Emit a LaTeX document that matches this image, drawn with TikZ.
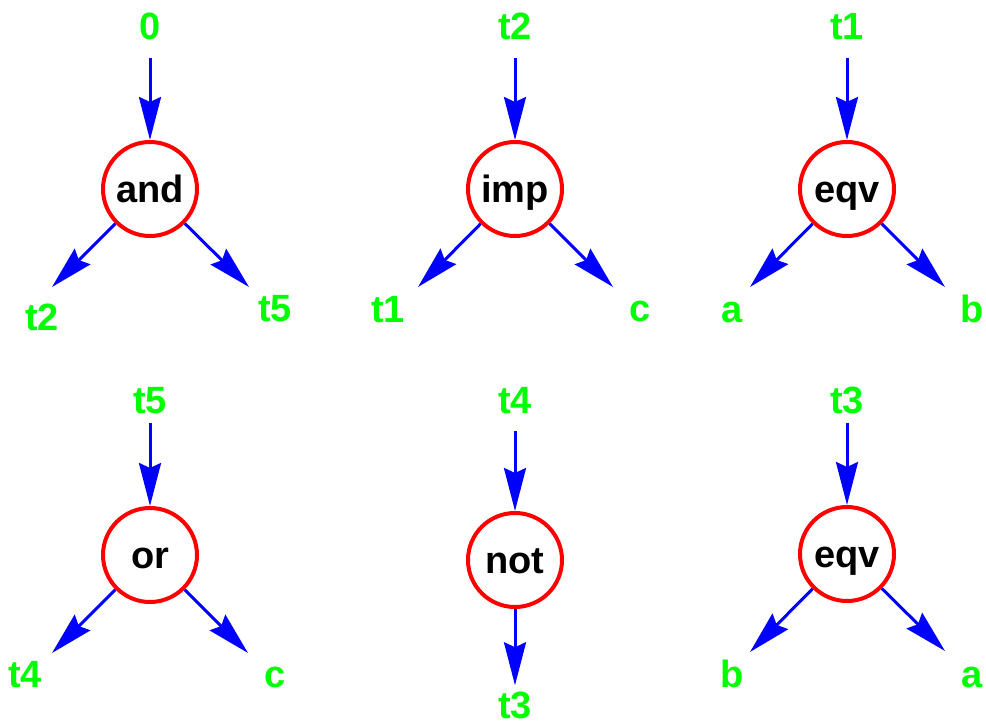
\documentclass[tikz,border=0pt]{standalone}
\usepackage{fontspec}
\setmainfont{Liberation Sans}
\usetikzlibrary{arrows.meta}
\definecolor{gatered}{RGB}{255,0,0}
\definecolor{termgreen}{RGB}{0,255,0}
\definecolor{edgeblue}{RGB}{0,0,255}
\begin{document}
\begin{tikzpicture}[x=1pt,y=-1pt,
  gate/.style={circle, draw=gatered, line width=4pt, minimum size=94pt,
    inner sep=0pt, text height=27pt, text depth=0pt,
    font=\bfseries\fontsize{38}{38}\selectfont},
  term/.style={text=termgreen, inner sep=0pt, anchor=base,
    font=\bfseries\fontsize{38}{38}\selectfont},
  edge/.style={draw=edgeblue, line width=3pt,
    -{Stealth[length=43pt,width=22pt,inset=5pt]}}]
\useasboundingbox (0,0) rectangle (986,725);

% ---- and ----
\node[gate] (and) at (150,189) {and};
\node[term] (and-in) at (150,40) {0};
\node[term] (and-l) at (42,330) {t2};
\node[term] (and-r) at (275,321) {t5};
\coordinate (and-lt) at (52,287);
\coordinate (and-rt) at (249,287);
\draw[edge, shorten <=17pt] (and-in) -- (and);
\draw[edge] (and) -- (and-lt);
\draw[edge] (and) -- (and-rt);

% ---- imp ----
\node[gate] (imp) at (515,189) {imp};
\node[term] (imp-in) at (515,40) {t2};
\node[term] (imp-l) at (388,322) {t1};
\node[term] (imp-r) at (640,321) {c};
\coordinate (imp-lt) at (418,287);
\coordinate (imp-rt) at (613,287);
\draw[edge, shorten <=17pt] (imp-in) -- (imp);
\draw[edge] (imp) -- (imp-lt);
\draw[edge] (imp) -- (imp-rt);

% ---- eqv (top) ----
\node[gate] (eqvA) at (847,189) {eqv};
\node[term] (eqvA-in) at (847,40) {t1};
\node[term] (eqvA-l) at (732,322) {a};
\node[term] (eqvA-r) at (972,322) {b};
\coordinate (eqvA-lt) at (750,287);
\coordinate (eqvA-rt) at (945,287);
\draw[edge, shorten <=17pt] (eqvA-in) -- (eqvA);
\draw[edge] (eqvA) -- (eqvA-lt);
\draw[edge] (eqvA) -- (eqvA-rt);

% ---- or ----
\node[gate] (or) at (150,555) {or};
\node[term] (or-in) at (150,413) {t5};
\node[term] (or-l) at (25,687) {t4};
\node[term] (or-r) at (275,687) {c};
\coordinate (or-lt) at (52,653);
\coordinate (or-rt) at (248,653);
\draw[edge, shorten <=9pt] (or-in) -- (or);
\draw[edge] (or) -- (or-lt);
\draw[edge] (or) -- (or-rt);

% ---- not ----
\node[gate] (not) at (515,560) {not};
\node[term] (not-in) at (515,413) {t4};
\node[term] (not-out) at (515,718) {t3};
\draw[edge, shorten <=17pt] (not-in) -- (not);
\draw[edge, shorten >=6pt] (not) -- (not-out);

% ---- eqv (bottom) ----
\node[gate] (eqvB) at (847,554) {eqv};
\node[term] (eqvB-in) at (847,413) {t3};
\node[term] (eqvB-l) at (732,687) {b};
\node[term] (eqvB-r) at (972,687) {a};
\coordinate (eqvB-lt) at (750,652);
\coordinate (eqvB-rt) at (945,651);
\draw[edge, shorten <=9pt] (eqvB-in) -- (eqvB);
\draw[edge] (eqvB) -- (eqvB-lt);
\draw[edge] (eqvB) -- (eqvB-rt);
\end{tikzpicture}
\end{document}
